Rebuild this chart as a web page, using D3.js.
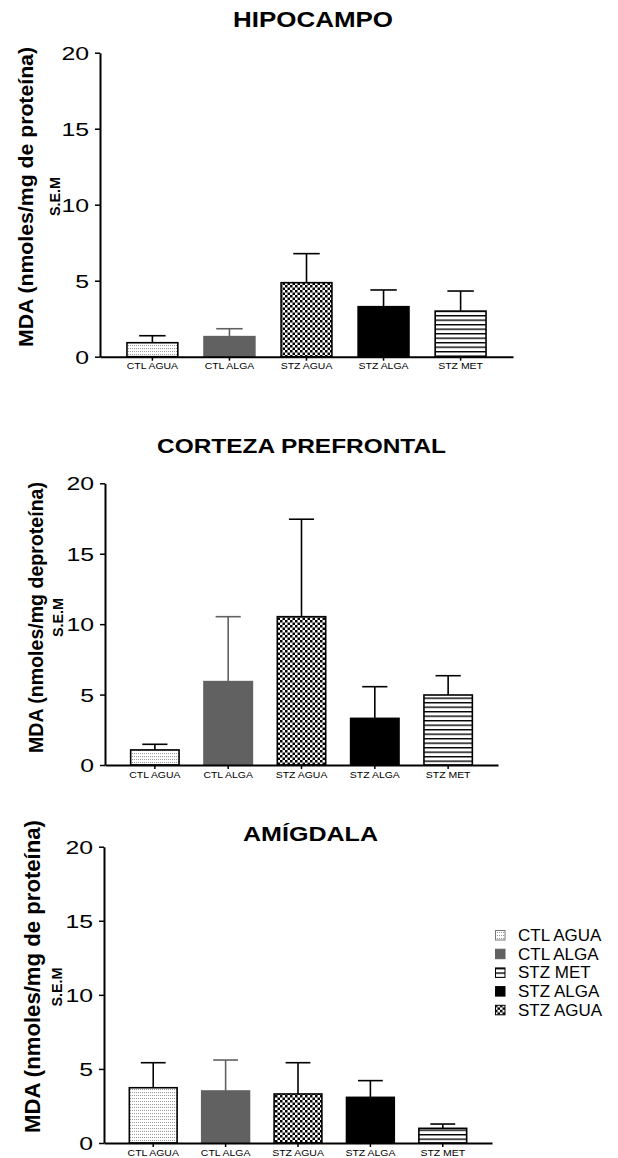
<!DOCTYPE html>
<html>
<head>
<meta charset="utf-8">
<script src="https://cdn.jsdelivr.net/npm/d3@7"></script>
<style>
  body { margin: 0; background: #fff; }
  text { font-family: "Liberation Sans", Arial, sans-serif; }
</style>
</head>
<body>
<div id="chart"></div>
<script>
// Data
var categories = ["CTL AGUA", "CTL ALGA", "STZ AGUA", "STZ ALGA", "STZ MET"];
var yTicks = [0, 5, 10, 15, 20];
var legendOrder = ["CTL AGUA", "CTL ALGA", "STZ MET", "STZ ALGA", "STZ AGUA"];

var hipocampoMean = [0.92, 1.32, 4.87, 3.29, 3.00];
var hipocampoSem  = [0.46, 0.52, 1.91, 1.10, 1.32];
var cortezaMean   = [1.07, 5.92, 10.53, 3.31, 4.97];
var cortezaSem    = [0.40, 4.61, 6.92, 2.25, 1.37];
var amigdalaMean  = [3.73, 3.51, 3.31, 3.08, 0.99];
var amigdalaSem   = [1.69, 2.09, 2.11, 1.13, 0.29];

var width = 618, height = 1158;
var GRAY = "#616161";

var svg = d3.select("#chart").append("svg")
    .attr("width", width)
    .attr("height", height);

// Fill patterns
var defs = svg.append("defs");
var dots = defs.append("pattern").attr("id", "dots")
    .attr("patternUnits", "userSpaceOnUse").attr("width", 2).attr("height", 3);
dots.append("rect").attr("width", 2).attr("height", 3).attr("fill", "#fff");
dots.append("rect").attr("width", 1).attr("height", 1).attr("fill", "#9a9a9a");

var checker = defs.append("pattern").attr("id", "checker")
    .attr("patternUnits", "userSpaceOnUse").attr("width", 5).attr("height", 5);
checker.append("rect").attr("width", 5).attr("height", 5).attr("fill", "#fff");
checker.append("rect").attr("width", 2.5).attr("height", 2.5).attr("fill", "#000");
checker.append("rect").attr("x", 2.5).attr("y", 2.5).attr("width", 2.5).attr("height", 2.5).attr("fill", "#000");

var hlines = defs.append("pattern").attr("id", "hlines")
    .attr("patternUnits", "userSpaceOnUse").attr("width", 4).attr("height", 4.5);
hlines.append("rect").attr("width", 4).attr("height", 4.5).attr("fill", "#fff");
hlines.append("rect").attr("y", 0).attr("width", 4).attr("height", 1.4).attr("fill", "#000");

var fills = {
  "CTL AGUA": "url(#dots)",
  "CTL ALGA": GRAY,
  "STZ AGUA": "url(#checker)",
  "STZ ALGA": "#000",
  "STZ MET": "url(#hlines)"
};
var strokes = {
  "CTL AGUA": "#000", "CTL ALGA": GRAY, "STZ AGUA": "#000", "STZ ALGA": "#000", "STZ MET": "#000"
};

// stretch a text horizontally to a given length
function fitText(sel, len) {
  sel.attr("textLength", len).attr("lengthAdjust", "spacingAndGlyphs");
}

// Panel layout
var panels = [
  { title: "HIPOCAMPO", mean: hipocampoMean, sem: hipocampoSem,
    label: "MDA (nmoles/mg de proteína)",
    left: 100, right: 513, y0: 356.7, y20: 52.7,
    titleX: 313, titleY: 27, titleLen: 160, titleSize: 22,
    labX: 32.5, labCY: 197, labLen: 300, labSize: 21,
    semX: 60, semCY: 196.5 },
  { title: "CORTEZA PREFRONTAL", mean: cortezaMean, sem: cortezaSem,
    label: "MDA (nmoles/mg deproteína)",
    left: 105, right: 498, y0: 765, y20: 483.3,
    titleX: 301.5, titleY: 453, titleLen: 289, titleSize: 21,
    labX: 43, labCY: 617.5, labLen: 271, labSize: 21,
    semX: 63, semCY: 617.5 },
  { title: "AMÍGDALA", mean: amigdalaMean, sem: amigdalaSem,
    label: "MDA (nmoles/mg de proteína)",
    left: 104, right: 492, y0: 1143, y20: 846.7,
    titleX: 310.5, titleY: 841, titleLen: 135, titleSize: 21,
    labX: 40, labCY: 976.5, labLen: 313, labSize: 22,
    semX: 62, semCY: 987 }
];

panels.forEach(function(p) {
  var g = svg.append("g");

  var x = d3.scaleBand()
      .domain(categories)
      .range([p.left, p.right])
      .paddingInner(0.34)
      .paddingOuter(0.35);

  var y = d3.scaleLinear()
      .domain([0, 20])
      .range([p.y0, p.y20]);

  var rows = categories.map(function(c, i) {
    return { cat: c, mean: p.mean[i], sem: p.sem[i] };
  });

  // error bars (upper only)
  var err = g.selectAll(".err").data(rows).enter().append("g")
      .attr("stroke", function(d) { return strokes[d.cat]; })
      .attr("stroke-width", 1.6);
  err.append("line")
      .attr("x1", function(d) { return x(d.cat) + x.bandwidth() / 2; })
      .attr("x2", function(d) { return x(d.cat) + x.bandwidth() / 2; })
      .attr("y1", function(d) { return y(d.mean); })
      .attr("y2", function(d) { return y(d.mean + d.sem); });
  err.append("line")
      .attr("x1", function(d) { return x(d.cat) + x.bandwidth() * 0.24; })
      .attr("x2", function(d) { return x(d.cat) + x.bandwidth() * 0.76; })
      .attr("y1", function(d) { return y(d.mean + d.sem); })
      .attr("y2", function(d) { return y(d.mean + d.sem); });

  // bars
  g.selectAll(".bar").data(rows).enter().append("rect")
      .attr("x", function(d) { return x(d.cat); })
      .attr("y", function(d) { return y(d.mean); })
      .attr("width", x.bandwidth())
      .attr("height", function(d) { return y(0) - y(d.mean); })
      .attr("fill", function(d) { return fills[d.cat]; })
      .attr("stroke", function(d) { return strokes[d.cat]; })
      .attr("stroke-width", 1.6);

  // y axis
  var yAxis = g.append("g")
      .attr("transform", "translate(" + p.left + ",0)")
      .call(d3.axisLeft(y).tickValues(yTicks).tickSize(5).tickSizeOuter(0).tickPadding(6));
  yAxis.select(".domain").attr("stroke-width", 2);
  yAxis.selectAll(".tick line").attr("stroke-width", 1.5);
  yAxis.selectAll(".tick text")
      .attr("font-family", "Liberation Sans, Arial, sans-serif")
      .attr("font-size", 18.5)
      .attr("dy", "0.36em")
      .each(function(d) { fitText(d3.select(this), 13.8 * String(d).length); });

  // x axis
  var xAxis = g.append("g")
      .attr("transform", "translate(0," + p.y0 + ")")
      .call(d3.axisBottom(x).tickSize(4).tickSizeOuter(0).tickPadding(2));
  xAxis.select(".domain").attr("stroke-width", 2);
  xAxis.selectAll(".tick line").attr("stroke-width", 1.5);
  xAxis.selectAll(".tick text")
      .attr("font-family", "Liberation Sans, Arial, sans-serif")
      .attr("font-size", 9.5)
      .each(function() {
        var t = d3.select(this);
        fitText(t, this.getComputedTextLength() * 1.1);
      });

  // title
  var title = g.append("text")
      .attr("x", p.titleX)
      .attr("y", p.titleY)
      .attr("text-anchor", "middle")
      .attr("font-weight", "bold")
      .attr("font-size", p.titleSize)
      .text(p.title);
  fitText(title, p.titleLen);

  // y label
  var lab = g.append("text")
      .attr("transform", "translate(" + p.labX + "," + p.labCY + ") rotate(-90)")
      .attr("text-anchor", "middle")
      .attr("font-weight", "bold")
      .attr("font-size", p.labSize)
      .text(p.label);
  fitText(lab, p.labLen);

  var sem = g.append("text")
      .attr("transform", "translate(" + p.semX + "," + p.semCY + ") rotate(-90)")
      .attr("text-anchor", "middle")
      .attr("font-weight", "bold")
      .attr("font-size", 14.5)
      .text("S.E.M");
  fitText(sem, 39);
});

// legend
var legend = svg.append("g").attr("transform", "translate(495,935)");
var item = legend.selectAll(".item").data(legendOrder).enter().append("g")
    .attr("transform", function(d, i) { return "translate(0," + (i * 18.7) + ")"; });
item.append("rect")
    .attr("x", 0.5).attr("y", -4.5)
    .attr("width", 9.5).attr("height", 9.5)
    .attr("fill", function(d) { return fills[d]; })
    .attr("stroke", function(d) { return d === "CTL AGUA" ? "#777" : strokes[d]; })
    .attr("stroke-width", 1);
item.append("text")
    .attr("x", 23)
    .attr("y", 6)
    .attr("font-size", 17)
    .text(function(d) { return d; });
</script>
</body>
</html>
